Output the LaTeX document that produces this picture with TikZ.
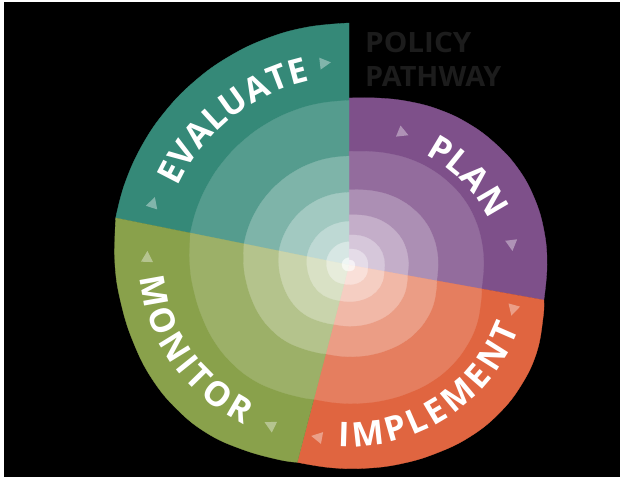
\documentclass[tikz,border=0pt]{standalone}
\usepackage{fontspec}
\usepackage{graphicx}
\usetikzlibrary{decorations.text,calc}
\newfontfamily\osans{Open Sans}
\definecolor{evalc}{RGB}{53,137,120}
\definecolor{planc}{RGB}{126,80,138}
\definecolor{implc}{RGB}{224,101,64}
\definecolor{monic}{RGB}{137,161,75}
\definecolor{titlec}{RGB}{28,28,28}
\begin{document}
\begin{tikzpicture}[x=1pt,y=1pt,
  tri/.style={fill=white,fill opacity=0.38},
  lbl/.style={decorate, decoration={text along path, text align=fit to path,
     text={|\osans\bfseries\fontsize{34}{36}\selectfont\color{white}|#1}}},
  ttl/.style={text=titlec, font=\osans\bfseries\fontsize{28}{30}\selectfont, inner sep=0pt, anchor=base west},
  sect/.style={line width=0.3pt, shift={(C)}, scale=#1}]
\useasboundingbox (0,0) rectangle (630,480);
\fill[white] (0,0) rectangle (630,480);
\fill[black] (4,3) rectangle (620,478);
\coordinate (C) at (349,215);
% sectors with concentric rings
\foreach \s/\m in {1/100,0.68/84,0.45/64,0.30/46,0.18/32,0.096/20,0.03/8}{
  \filldraw[evalc!\m!white, sect=\s] (0,0) -- plot[smooth, tension=0.7] coordinates {(90:242) (100:241.5) (110:241) (120:240.5) (130:240) (140:239.5) (150:239) (160:238.5) (168.6:238)} -- cycle;
  \filldraw[planc!\m!white, sect=\s] (0,0) -- plot[smooth, tension=0.7] coordinates {(-10.2:198) (0:198) (10:198) (20:197) (30:194.5) (40:190) (50:185) (60:179.5) (70:174) (80:169.5) (90:167)} -- cycle;
  \filldraw[implc!\m!white, sect=\s] (0,0) -- plot[smooth, tension=0.7] coordinates {(255.3:204) (265:203.5) (275:204) (285:205.5) (295:207.5) (305:210) (315:211) (325:210) (335:207) (345:201) (349.8:198)} -- cycle;
  \filldraw[monic!\m!white, sect=\s] (0,0) -- plot[smooth, tension=0.7] coordinates {(168.6:238) (180:234) (190:231) (200:229) (210:227.5) (220:224.5) (230:220) (240:213) (250:207) (255.3:204)} -- cycle;
}
% triangles
\foreach \a/\r in {96.8/203.4, 162.4/205.6, 67.8/142.6, 7/164, -15.3/170, 259.5/175, 243.7/178.4, 177.7/202}{
  \fill[tri, shift={($(C)+(\a:\r)$)}, rotate=\a-90] (6,0) -- (-5,6) -- (-5,-6) -- cycle;
}
% curved labels
\path[lbl=EVALUATE] ($(C)+(155.5:188)$) arc[start angle=155.5, end angle=102, radius=188];
\path[lbl=PLAN] ($(C)+(59.4:149 and 128.3)$) arc[start angle=59.4, end angle=20.7, x radius=149, y radius=128.3];
\path[lbl=IMPLEMENT] ($(C)+(266.5:182)$) arc[start angle=266.5, end angle=339.5, radius=182];
\path[lbl=MONITOR] ($(C)+(183.98:209.5 and 184.5)$) arc[start angle=183.98, end angle=239.78, x radius=209.5, y radius=184.5];
% title
\node[ttl] (policy) at (365,427) {\scalebox{1.06}[1]{POLICY}};
\node[ttl] (pathway) at (365,393) {\scalebox{1.03}[1]{PATHWAY}};
\end{tikzpicture}
\end{document}
